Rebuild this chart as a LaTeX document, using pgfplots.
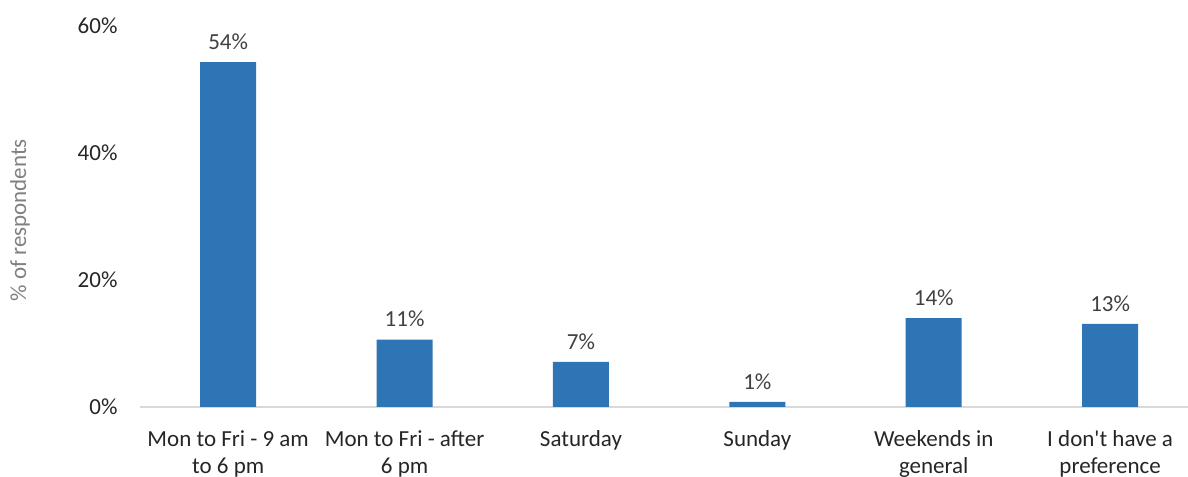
\documentclass[border=0pt]{standalone}
\usepackage{pgfplots}
\pgfplotsset{compat=1.18}
\usepackage{fontspec}
\setmainfont{Carlito}[Ligatures=TeXOff]
\definecolor{barblue}{HTML}{2E75B6}
\definecolor{ticktext}{HTML}{262626}
\definecolor{labtext}{HTML}{404040}
\definecolor{ylabtext}{HTML}{808080}
\definecolor{axisgray}{HTML}{D9D9D9}
\begin{document}
\begin{tikzpicture}
\useasboundingbox (0,0) rectangle (1188bp,477bp);
\begin{axis}[
  at={(140bp,70bp)}, anchor=south west,
  scale only axis, width=1058.4bp, height=381bp,
  xmin=-0.5, xmax=5.5, ymin=0, ymax=60,
  axis x line*=bottom, axis y line*=left,
  x axis line style={draw=axisgray, line width=1.2bp},
  y axis line style={draw=none},
  major tick length=0pt,
  ytick={0,20,40,60},
  /pgf/number format/assume math mode=true,
  yticklabel={\pgfmathprintnumber{\tick}\%},
  xtick=data,
  xticklabels={{Mon to Fri - 9 am\\to 6 pm},{Mon to Fri - after\\6 pm},{Saturday},{Sunday},{Weekends in\\general},{I don't have a\\preference}},
  ticklabel style={font=\fontsize{23bp}{27bp}\selectfont, text=ticktext},
  xticklabel style={align=center, anchor=north, yshift=-20bp},
  yticklabel style={xshift=-19bp},
  ylabel={\% of respondents},
  ylabel style={font=\fontsize{23bp}{27bp}\selectfont, text=ylabtext, at={(axis description cs:-0.1134,0.49)}, anchor=center},
  ybar, bar width=56bp,
  nodes near coords={\pgfmathprintnumber[fixed,precision=0]{\pgfplotspointmeta}\%},
  point meta=y,
  nodes near coords style={font=\fontsize{23bp}{27bp}\selectfont, text=labtext, anchor=south, yshift=9bp},
]
\addplot[fill=barblue, draw=none] coordinates {(0,54.3) (1,10.6) (2,7.1) (3,0.8) (4,14.0) (5,13.1)};
\end{axis}
\end{tikzpicture}
\end{document}
